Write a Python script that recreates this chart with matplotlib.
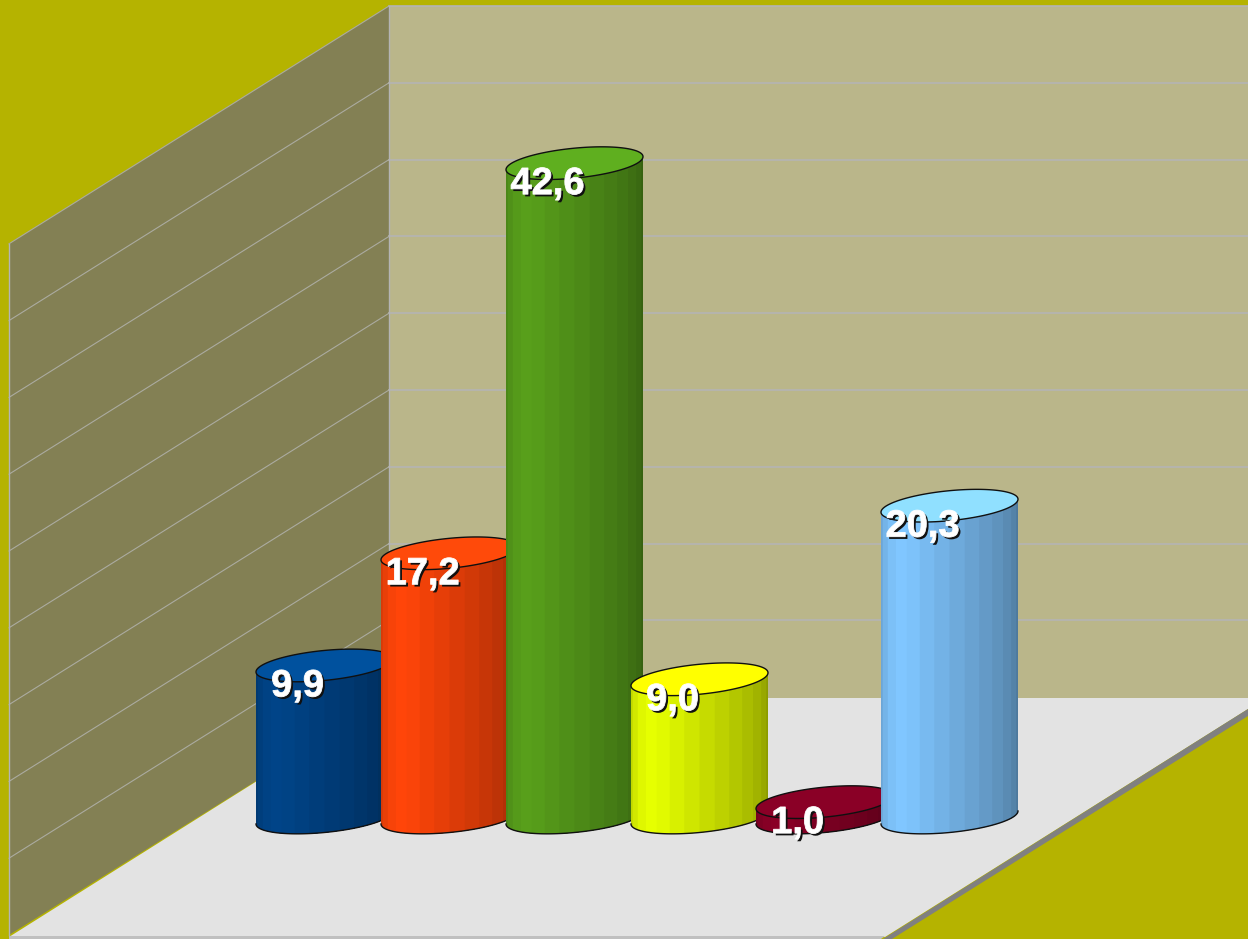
import numpy as np
import matplotlib
matplotlib.use('Agg')
import matplotlib.pyplot as plt
import matplotlib.patheffects as pe
from matplotlib.patches import Polygon
from matplotlib.transforms import Affine2D
from matplotlib.colors import to_rgb

# Chart values
labels = ['9,9', '17,2', '42,6', '9,0', '1,0', '20,3']
values = [9.9, 17.2, 42.6, 9.0, 1.0, 20.3]
top_colors = ['#00519E', '#FF4A0A', '#5FAF1F', '#FFFF00', '#8A0026', '#90E0FF']
side_colors = ['#004488', '#FF4509', '#589F1B', '#E6FF00', '#8A0026', '#80C6FF']
grid_ticks = [5, 10, 15, 20, 25, 30, 35, 40, 45]

# Shading of the cylinder from left to right
shade = [0.84, 0.91, 0.97, 1.0, 0.98, 0.94, 0.90, 0.86, 0.82, 0.78, 0.74, 0.70, 0.66, 0.61]

W, H = 1248, 939
PX_PER_UNIT = 15.36
PX_PER_BAR = 125
BASE_X, BASE_Y = 324.5, 817.5
BACK_X, BACK_FLOOR = 389, 697.2
LEFT_X, LEFT_FLOOR = 9, 935

OLIVE = '#B5B300'
BACK_WALL = '#BAB68A'
SIDE_WALL = '#838054'
FLOOR = '#E3E3E3'

fig = plt.figure(figsize=(W / 100, H / 100), dpi=100, facecolor=OLIVE)
ax = fig.add_axes([0, 0, 1, 1])
ax.set_xlim(-BASE_X / PX_PER_BAR, (W - BASE_X) / PX_PER_BAR)
ax.set_ylim(-(H - BASE_Y) / PX_PER_UNIT, BASE_Y / PX_PER_UNIT)
ax.axis('off')

# The room is laid out in pixels, y going down
room = Affine2D().scale(1, -1).translate(0, H)


def room_poly(points, color, z):
    ax.add_patch(Polygon(points, closed=True, facecolor=color, edgecolor='none',
                         transform=room, zorder=z))


wall_top = BACK_FLOOR - 45 * PX_PER_UNIT
left_top = LEFT_FLOOR - 45 * PX_PER_UNIT
room_poly([(BACK_X, wall_top), (W, wall_top), (W, 698), (BACK_X, 698)], BACK_WALL, 1)
room_poly([(LEFT_X, left_top), (BACK_X, wall_top), (BACK_X, 698), (LEFT_X, LEFT_FLOOR)], SIDE_WALL, 1)
room_poly([(LEFT_X, 937), (BACK_X, 698), (W, 698), (W, 709), (885, 937)], FLOOR, 1.5)
room_poly([(883, 939), (W, 709), (W, 716), (892, 939)], '#808080', 2)
room_poly([(LEFT_X, 936), (885, 936), (881, 939), (LEFT_X, 939)], '#C0C0C0', 2)

# Grid lines and wall edges
for tick in grid_ticks:
    y_back = BACK_FLOOR - tick * PX_PER_UNIT
    y_left = LEFT_FLOOR - tick * PX_PER_UNIT
    ax.plot([BACK_X, W], [y_back, y_back], color='#B4B4B4', lw=1.2, transform=room, zorder=3)
    ax.plot([LEFT_X, BACK_X], [y_left, y_back], color='#ABABA0', lw=0.8, transform=room, zorder=3)
ax.plot([LEFT_X, LEFT_X], [left_top, LEFT_FLOOR], color='#B4B4B4', lw=1, transform=room, zorder=3)
ax.plot([BACK_X, BACK_X], [wall_top, 698], color='#B4B4B4', lw=1, transform=room, zorder=3)

# Cylinder shape in data units
rx = 68.5 / PX_PER_BAR
ry = 15 / PX_PER_UNIT
skew = 6.5 / PX_PER_UNIT


def ellipse_pts(pos, level, t):
    return np.column_stack([pos + rx * np.cos(t),
                            level + skew * np.cos(t) + ry * np.sin(t)])


def draw_bar(pos, value, side, top, z):
    side = np.array(to_rgb(side))
    edges = np.linspace(np.pi, 2 * np.pi, len(shade) + 1)
    # each band runs to the right end, the next one paints over it, so no seams
    for i, factor in enumerate(shade):
        t = np.linspace(edges[i], 2 * np.pi, 60)
        lower = ellipse_pts(pos, 0, t)
        upper = ellipse_pts(pos, value, t)
        ax.add_patch(Polygon(np.vstack([lower, upper[::-1]]), closed=True,
                             facecolor=tuple(side * factor), edgecolor='none', zorder=z))
    ax.plot(*ellipse_pts(pos, 0, np.linspace(np.pi, 2 * np.pi, 80)).T,
            color='#101010', lw=1.0, zorder=z + 0.1)
    ring = ellipse_pts(pos, value, np.linspace(0, 2 * np.pi, 160))
    ax.add_patch(Polygon(ring, closed=True, facecolor=top, edgecolor='#101010',
                         lw=1.0, zorder=z + 0.2))


for i, value in enumerate(values):
    draw_bar(i, value, side_colors[i], top_colors[i], 10 + i)

# Labels on top of everything
for i, value in enumerate(values):
    ax.text(i - 27 / PX_PER_BAR, value - 31 / PX_PER_UNIT, labels[i], ha='center', va='baseline',
            color='white', fontsize=27.4, fontweight='bold', family='Liberation Sans', zorder=30,
            path_effects=[pe.SimplePatchShadow(offset=(1.6, -1.6), shadow_rgbFace='#101010', alpha=1),
                          pe.Stroke(linewidth=0.6, foreground='white')])

fig.savefig('out.png', dpi=100, facecolor=OLIVE)
